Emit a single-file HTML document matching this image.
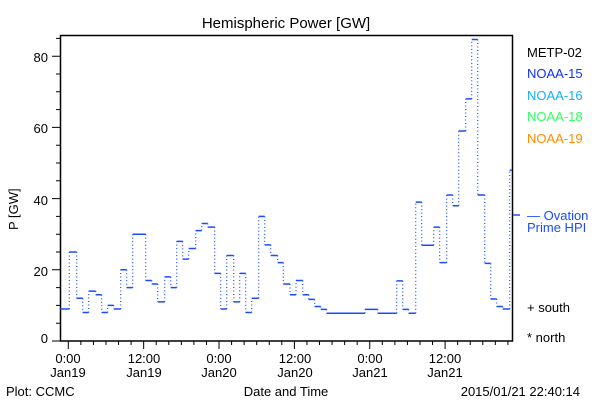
<!DOCTYPE html>
<html><head><meta charset="utf-8"><style>
html,body{margin:0;padding:0;background:#fff;}
svg{display:block;font-family:"Liberation Sans",sans-serif;}
</style></head><body>
<svg id="s" width="600" height="400" xmlns="http://www.w3.org/2000/svg">
<rect width="600" height="400" fill="#fff"/>
<text x="286" y="28" font-size="15" text-anchor="middle">Hemispheric Power [GW]</text>
<rect x="60.5" y="35.5" width="452" height="305.5" fill="none" stroke="#000" stroke-width="1.5"/>
<g id="ax" stroke="#000" stroke-width="1"></g>
<g font-size="13" text-anchor="end">
<text x="48" y="343">0</text><text x="48" y="276">20</text><text x="48" y="205">40</text><text x="48" y="133">60</text><text x="48" y="62">80</text>
</g>
<text transform="translate(18,230) rotate(-90)" font-size="13">P [GW]</text>
<g font-size="13" text-anchor="middle">
<text x="68" y="363">0:00</text><text x="68" y="377">Jan19</text>
<text x="144" y="363">12:00</text><text x="144" y="377">Jan19</text>
<text x="219" y="363">0:00</text><text x="219" y="377">Jan20</text>
<text x="295" y="363">12:00</text><text x="295" y="377">Jan20</text>
<text x="370" y="363">0:00</text><text x="370" y="377">Jan21</text>
<text x="445" y="363">12:00</text><text x="445" y="377">Jan21</text>
<text x="286" y="396">Date and Time</text>
</g>
<text x="6" y="396" font-size="13">Plot: CCMC</text>
<text x="580" y="396" font-size="13" text-anchor="end">2015/01/21 22:40:14</text>
<g font-size="13">
<text x="527" y="57" fill="#000">METP-02</text>
<text x="527" y="78" fill="#1030ff">NOAA-15</text>
<text x="527" y="100" fill="#10b0ff">NOAA-16</text>
<text x="527" y="121" fill="#30ff60">NOAA-18</text>
<text x="527" y="143" fill="#ff8c00">NOAA-19</text>
<text x="527" y="220" fill="#1a4cff">— Ovation</text>
<text x="527" y="232" fill="#1a4cff">Prime HPI</text>
<text x="527" y="312" fill="#000">+ south</text>
<text x="527" y="342" fill="#000">* north</text>
</g>
<line x1="513" y1="215" x2="520" y2="215" stroke="#1a4cff" stroke-width="1.5"/>
<path id="h" fill="none" stroke="#1a4cff" stroke-width="1.5"/>
<path id="v" fill="none" stroke="#1a4cff" stroke-width="1.2" stroke-dasharray="1 2.5"/>
</svg>
<script>
var d=[[60.3,9],[69.3,25],[76.7,12],[82.7,8],[88.7,14],[95.7,13],[101.7,8],[107.7,10],[113.7,9],[120.7,20],[126.7,15],[132.7,30],[145.7,17],[151.7,16],[157.7,11],[164.7,18],[170.7,15],[176.7,28],[182.7,23],[188.7,26],[195.7,31],[201.7,33],[207.7,32],[214.7,19],[220.7,9],[226.7,24],[233.7,11],[239.7,19],[245.7,8],[251.7,12],[258.7,35],[264.7,27],[270.7,24],[277.7,22],[283.3,16],[290,13],[296,17],[302.7,13],[308.7,11.7],[314.7,9.7],[320.7,8.9],[326.7,7.8],[365,8.9],[377.7,7.8],[396.7,16.9],[402.7,8.9],[408.7,7.8],[415.7,39],[421.7,26.9],[433.7,32],[439.7,22],[446.7,41],[452.7,38],[458.7,59],[465.7,68],[471.7,84.7],[477.7,41],[484.7,21.8],[490.7,11.8],[496.7,9.7],[502.7,9],[509.7,48],[512,0]];
function Y(v){return 341-3.56*v;}
var h="",v="";
for(var i=0;i<d.length-1;i++){var y=Y(d[i][1]);h+="M"+d[i][0]+" "+y+"H"+d[i+1][0];
if(i<d.length-2){v+="M"+d[i+1][0]+" "+y+"V"+Y(d[i+1][1]);}}
document.getElementById("h").setAttribute("d",h);
document.getElementById("v").setAttribute("d",v);
var a="";
for(var k=0;k<=85;k+=5){var y=Y(k);a+="M"+(k%20==0?52:56)+" "+y+"H60";}
for(var t=-0;t<=70;t+=2){var x=68.3+t*6.28;if(x>512)break;a+="M"+x+" 341V"+(t%12==0?349:345);}
var g=document.getElementById("ax");var p=document.createElementNS("http://www.w3.org/2000/svg","path");p.setAttribute("d",a);g.appendChild(p);
</script>
</body></html>
